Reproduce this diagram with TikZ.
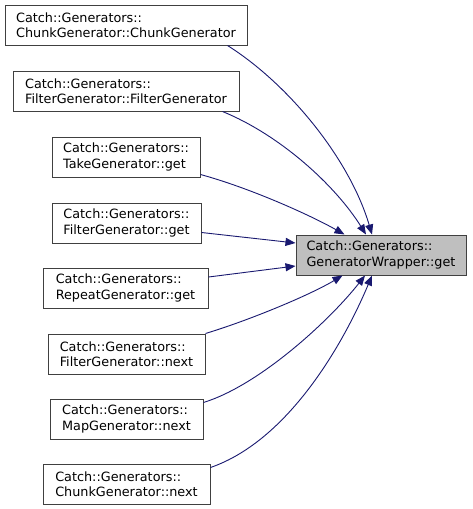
\documentclass[tikz,border=0pt]{standalone}
\usepackage{fontspec}
\setmainfont{DejaVu Sans}
\usetikzlibrary{arrows.meta}
\definecolor{edgeblue}{HTML}{191970}
\definecolor{boxborder}{HTML}{404040}
\definecolor{targetfill}{HTML}{BFBFBF}
\tikzset{
  fnbox/.style={draw=boxborder, line width=1pt, fill=white, inner sep=0pt, align=left,
    minimum height=40pt, font=\fontsize{12.8}{15.4}\selectfont},
  callarrow/.style={draw=edgeblue, line width=0.9pt,
    -{Triangle[length=10pt,width=8pt,fill=edgeblue]}}
}
\begin{document}
\begin{tikzpicture}[x=1pt,y=-1pt]
\useasboundingbox (0,0) rectangle (472,509);
\node[fnbox, minimum width=242pt] (n1) at (126,25) {Catch::Generators::\\ChunkGenerator::ChunkGenerator};
\node[fnbox, minimum width=226pt] (n2) at (126,91) {Catch::Generators::\\FilterGenerator::FilterGenerator};
\node[fnbox, minimum width=148pt] (n3) at (126,157) {Catch::Generators::\\TakeGenerator::get};
\node[fnbox, minimum width=149pt] (n4) at (126.5,223) {Catch::Generators::\\FilterGenerator::get};
\node[fnbox, minimum width=165pt] (n5) at (125.5,288) {Catch::Generators::\\RepeatGenerator::get};
\node[fnbox, minimum width=157pt] (n6) at (126.5,354) {Catch::Generators::\\FilterGenerator::next};
\node[fnbox, minimum width=153pt] (n7) at (126.5,419) {Catch::Generators::\\MapGenerator::next};
\node[fnbox, minimum width=167pt] (n8) at (126.5,484) {Catch::Generators::\\ChunkGenerator::next};
\node[fnbox, fill=targetfill, minimum width=170pt] (t) at (381,255) {Catch::Generators::\\GeneratorWrapper::get};

\draw[callarrow] ([xshift=-20pt]n1.south east) .. controls (290,85) and (350,160) .. ([xshift=-9pt]t.north);
\draw[callarrow] ([xshift=-17pt]n2.south east) .. controls (280,135) and (335,185) .. ([xshift=-15pt]t.north);
\draw[callarrow] ([yshift=3pt]n3.south east) .. controls (250,188) and (310,215) .. ([xshift=49pt]t.north west);
\draw[callarrow] ([yshift=11pt]n4.south east) -- ([yshift=12pt]t.west);
\draw[callarrow] ([yshift=11pt]n5.east) -- ([yshift=-11pt]t.west);
\draw[callarrow] (n6.north east) .. controls (250,320) and (310,295) .. ([xshift=47pt]t.south west);
\draw[callarrow] ([yshift=-4pt]n7.north east) .. controls (260,385) and (330,320) .. ([xshift=-16pt]t.south);
\draw[callarrow] ([yshift=-4pt]n8.north east) .. controls (290,440) and (345,340) .. ([xshift=-9pt]t.south);
\end{tikzpicture}
\end{document}
